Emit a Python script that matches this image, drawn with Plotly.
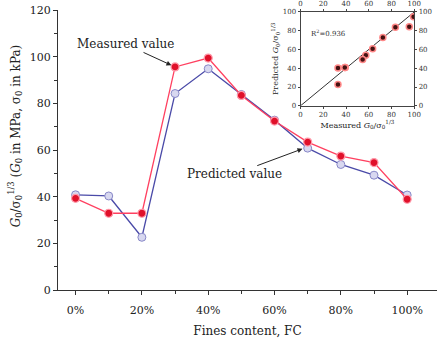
import plotly.graph_objects as go

fc = [0, 10, 20, 30, 40, 50, 60, 70, 80, 90, 100]
measured = [39.3, 32.9, 32.9, 95.6, 99.4, 83.4, 72.4, 63.4, 57.4, 54.6, 38.9]
predicted = [40.8, 40.3, 22.6, 84.2, 94.8, 83.8, 72.8, 60.8, 53.8, 49.2, 40.7]
x_ticks = [0, 20, 40, 60, 80, 100]
x_ticklabels = ["0%", "20%", "40%", "60%", "80%", "100%"]
line_11 = [0, 100]
r2_text = "R<sup>2</sup>=0.936"

FONT = "DejaVu Serif"
fig = go.Figure()

fig.add_trace(go.Scatter(x=fc, y=predicted, mode="lines+markers",
    line=dict(color="#4a4aa8", width=1.3),
    marker=dict(symbol="circle", size=8, color="#d8d8f0", line=dict(color="#8888c8", width=1)),
    showlegend=False))
fig.add_trace(go.Scatter(x=fc, y=measured, mode="lines+markers",
    line=dict(color="#ff4060", width=1.3),
    marker=dict(symbol="circle", size=8, color="#e0102a", line=dict(color="#ff9aaa", width=1.2)),
    showlegend=False))

# inset
fig.add_trace(go.Scatter(x=line_11, y=line_11, mode="lines", xaxis="x2", yaxis="y2",
    line=dict(color="#333333", width=1), showlegend=False))
fig.add_trace(go.Scatter(x=measured, y=predicted, mode="markers", xaxis="x2", yaxis="y2",
    marker=dict(size=6, color="#441111", line=dict(color="#ff8888", width=1.5)), showlegend=False))
fig.add_trace(go.Scatter(x=[None], y=[None], xaxis="x3", yaxis="y3", showlegend=False, hoverinfo="skip"))
# minor-tick helper axes
fig.add_trace(go.Scatter(x=[None], y=[None], xaxis="x4", yaxis="y4", showlegend=False, hoverinfo="skip"))

tickfont = dict(family=FONT, size=11, color="#222")
small = dict(family=FONT, size=7, color="#333")

fig.update_layout(
    width=444, height=344,
    margin=dict(l=58, r=0, t=9, b=54),
    paper_bgcolor="white", plot_bgcolor="white",
    font=dict(family=FONT, color="#222"),
    xaxis=dict(range=[-5.3, 109], tickvals=x_ticks, ticktext=x_ticklabels,
        ticks="outside", ticklen=4, tickcolor="#333", showline=True, linecolor="#333", linewidth=1,
        ticklabelstandoff=6,
        showgrid=False, zeroline=False, tickfont=tickfont,
        title=dict(text="Fines content, FC", font=dict(family=FONT, size=12), standoff=10)),
    yaxis=dict(range=[0, 120], dtick=20, ticks="outside", ticklen=4, tickcolor="#333",
        showline=True, linecolor="#333", linewidth=1,
        showgrid=False, zeroline=False, tickfont=tickfont),
    xaxis4=dict(overlaying="x", anchor="y", range=[-5.3, 109], tick0=0, dtick=10,
        ticks="outside", ticklen=3, tickcolor="#333", showticklabels=False,
        showline=False, showgrid=False, zeroline=False),
    yaxis4=dict(overlaying="y", anchor="x", range=[0, 120], tick0=0, dtick=10,
        ticks="outside", ticklen=3, tickcolor="#333", showticklabels=False,
        showline=False, showgrid=False, zeroline=False),
    xaxis2=dict(domain=[0.640, 0.940], anchor="y2", range=[0, 100], dtick=20,
        ticks="outside", ticklen=2, showline=True, mirror=False, linecolor="#444", linewidth=1,
        showgrid=False, zeroline=False, tickfont=small,
        title=dict(text="Measured <i>G</i><sub>0</sub>/σ<sub>0</sub><sup>1/3</sup>", font=dict(family=FONT, size=8), standoff=2)),
    yaxis2=dict(domain=[0.658, 0.993], anchor="x2", range=[0, 100], dtick=20,
        ticks="outside", ticklen=2, showline=True, linecolor="#444", linewidth=1,
        showgrid=False, zeroline=False, tickfont=small,
        title=dict(text="Predicted <i>G</i><sub>0</sub>/σ<sub>0</sub><sup>1/3</sup>", font=dict(family=FONT, size=8), standoff=2)),
    xaxis3=dict(overlaying="x2", side="top", anchor="y3", range=[0, 100], dtick=20,
        ticks="outside", ticklen=2, showline=True, linecolor="#444", linewidth=1,
        showgrid=False, zeroline=False, tickfont=small),
    yaxis3=dict(overlaying="y2", side="right", anchor="x3", range=[0, 100], dtick=20,
        ticks="outside", ticklen=2, showline=True, linecolor="#444", linewidth=1,
        showgrid=False, zeroline=False, tickfont=small),
)

fig.add_annotation(x=-0.111, y=0.552, xref="paper", yref="paper", textangle=-90, showarrow=False,
    text="<i>G</i><sub>0</sub>/σ<sub>0</sub><sup>1/3</sup> (<i>G</i><sub>0</sub> in MPa, σ<sub>0</sub> in kPa)",
    font=dict(family=FONT, size=12, color="#222"), xanchor="center", yanchor="middle")
fig.add_annotation(x=30, y=95.6, ax=-50, ay=-23, text="Measured value", showarrow=True,
    arrowhead=2, arrowsize=1, arrowwidth=1, arrowcolor="#222", standoff=4,
    font=dict(family=FONT, size=12, color="#222"), xanchor="center")
fig.add_annotation(x=69, y=60.8, ax=-70, ay=26, text="Predicted value", showarrow=True,
    arrowhead=2, arrowsize=1, arrowwidth=1, arrowcolor="#222", standoff=2,
    font=dict(family=FONT, size=12, color="#222"), xanchor="center")
fig.add_annotation(x=25, y=78, xref="x2", yref="y2", text=r2_text, showarrow=False,
    font=dict(family=FONT, size=7, color="#333"))

fig.write_html("out.html")
